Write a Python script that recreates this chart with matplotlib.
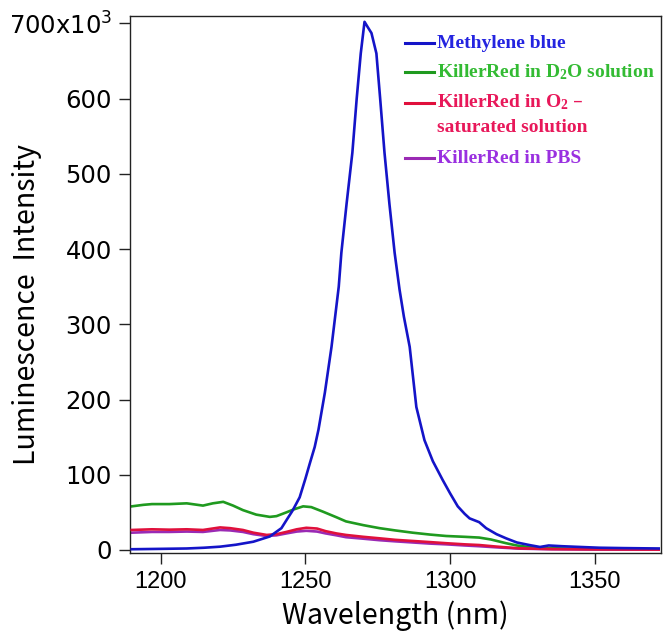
import matplotlib
matplotlib.use("Agg")
import matplotlib.pyplot as plt
import numpy as np

# ---------------- data (intensity in units of 10^3) ----------------
mb_wl = [1190, 1200, 1209, 1215, 1220.5, 1226, 1232, 1237.7, 1241.7, 1243.5, 1245.5, 1248,
         1250, 1251.5, 1253.2, 1254.5, 1256.7, 1259, 1261.5, 1262.4, 1264.2, 1266.2, 1267.7,
         1269.1, 1270.4, 1271.5, 1272.8, 1274.5, 1275.8, 1277.3, 1279, 1280.8, 1282.5, 1284,
         1286, 1288.3, 1291.1, 1294, 1297.4, 1300, 1302.6, 1305, 1306.7, 1310, 1312.4, 1316,
         1319.3, 1323, 1327.3, 1331, 1334, 1338.7, 1345, 1351.5, 1360, 1372]
mb_val = [1, 1.5, 2, 3, 4.4, 7, 11, 18, 29, 40, 52, 70,
          95, 115, 137, 160, 209, 270, 350, 395, 460, 528, 600,
          660, 702, 695, 687, 660, 600, 528, 460, 395, 346, 310,
          270, 190, 146, 118, 93, 75, 58, 48, 42, 37, 29, 21,
          15.5, 10, 6.6, 4, 6, 5, 4, 3, 2.5, 2]

d2o_wl = [1190, 1194, 1197, 1203, 1209, 1214.6, 1218, 1221.6, 1225, 1228.4, 1233, 1237.7,
          1240, 1243.4, 1246, 1249.2, 1252, 1256, 1260.7, 1264, 1270, 1275.6, 1281, 1287,
          1293, 1298.6, 1305, 1310, 1314, 1319.3, 1323, 1326.2, 1331, 1341, 1355, 1372]
d2o_val = [58, 60, 61, 61, 62, 59, 62, 64, 59, 53, 47, 44,
           45, 50, 54, 58, 57, 51, 43.5, 38, 33, 29, 26, 23,
           20.5, 18.6, 17.5, 16.5, 14, 9, 6, 4.4, 2.8, 1.8, 1.2, 1]

kr_wl = [1190, 1197, 1203, 1209, 1214.6, 1220.5, 1224, 1228.4, 1232, 1236.6, 1240, 1243.4,
         1247, 1250.3, 1254, 1257, 1260.7, 1264, 1270, 1275.6, 1281, 1287, 1293, 1298.6,
         1305, 1310, 1316, 1323.8, 1335, 1350, 1372]
o2_val = [26.6, 27.5, 27, 27.5, 26.6, 30, 29, 26.6, 23, 20, 21, 24,
          27.5, 29.5, 28.5, 25, 22, 20, 17.5, 15.5, 13.5, 12, 10.5, 9,
          7.5, 6.6, 4.5, 2.2, 1.2, 0.8, 0.5]
pbs_val = [23, 24, 24, 24.5, 24, 26.6, 26, 24, 21, 18.6, 19.5, 22,
           24.5, 25.5, 24.5, 22, 19.5, 17, 15, 13, 11.5, 10, 8.5, 7.5,
           6, 5, 3.5, 1.8, 1, 0.6, 0.4]

series_labels = ["Methylene blue", "KillerRed in D$_2$O solution",
                 "KillerRed in O$_2$ \u2013\nsaturated solution", "KillerRed in PBS"]

x_ticks = [1200, 1250, 1300, 1350]
y_ticks = [0, 100, 200, 300, 400, 500, 600, 700]
y_tick_labels = ["0", "100", "200", "300", "400", "500", "600", "700x10$^{3}$"]

# ---------------- style ----------------
plt.rcParams["mathtext.default"] = "regular"
line_cols = ["#1414c8", "#1f9a1f", "#e0103c", "#9a2ab4"]
text_cols = ["#2424e0", "#33bb33", "#e8185a", "#9a30e0"]

fig = plt.figure(figsize=(6.69, 6.32), dpi=100)
ax = fig.add_axes([130 / 669, 1 - 553 / 632, (661 - 130) / 669, (553 - 16) / 632])

lw = 1.9
ax.plot(d2o_wl, d2o_val, color=line_cols[1], lw=lw, zorder=2)
ax.plot(kr_wl, o2_val, color=line_cols[2], lw=lw, zorder=3)
ax.plot(kr_wl, pbs_val, color=line_cols[3], lw=lw, zorder=2.5)
ax.plot(mb_wl, mb_val, color=line_cols[0], lw=lw, zorder=4)

ax.set_xlim(1189.4, 1372.8)
ax.set_ylim(-4, 709.7)
ax.set_xticks(x_ticks)
ax.set_xticklabels([str(t) for t in x_ticks], family="Liberation Sans", fontsize=17)
ax.set_yticks(y_ticks)
ax.set_yticklabels(y_tick_labels, family="DejaVu Sans", fontsize=17.5)
ax.tick_params(direction="out", length=8, width=1, pad=5, color="#222222")
ax.tick_params(axis="x", pad=5)
for s in ax.spines.values():
    s.set_linewidth(1.0)
    s.set_color("#222222")

lab_font = ["Noto Sans CJK JP", "DejaVu Sans"]
ax.set_xlabel("Wavelength (nm)", family=lab_font, fontsize=20.5, fontweight="normal")
ax.xaxis.set_label_coords(0.5, -0.088)
ax.set_ylabel("Luminescence  Intensity", family=lab_font, fontsize=20.5, fontweight="normal")
ax.yaxis.set_label_coords(-0.166, 0.462)

# ---------------- legend (manual) ----------------
tr = ax.transAxes
def fx(px):
    return (px - 130) / (661 - 130)
def fy(py):
    return (553 - py) / (553 - 16)

rows_y = [43, 72, 103, 158]
for i, (lab, yy) in enumerate(zip(series_labels, rows_y)):
    ax.plot([fx(405), fx(434)], [fy(yy), fy(yy)], transform=tr, color=line_cols[i], lw=2.2,
            clip_on=False)
    multi = "\n" in lab
    ax.text(fx(437), fy(yy - 11) if multi else fy(yy), lab, transform=tr, color=text_cols[i],
            fontsize=14, family="Liberation Serif", fontweight="bold",
            va="top" if multi else "center", ha="left", linespacing=1.55)

fig.savefig("out.png", dpi=100)
